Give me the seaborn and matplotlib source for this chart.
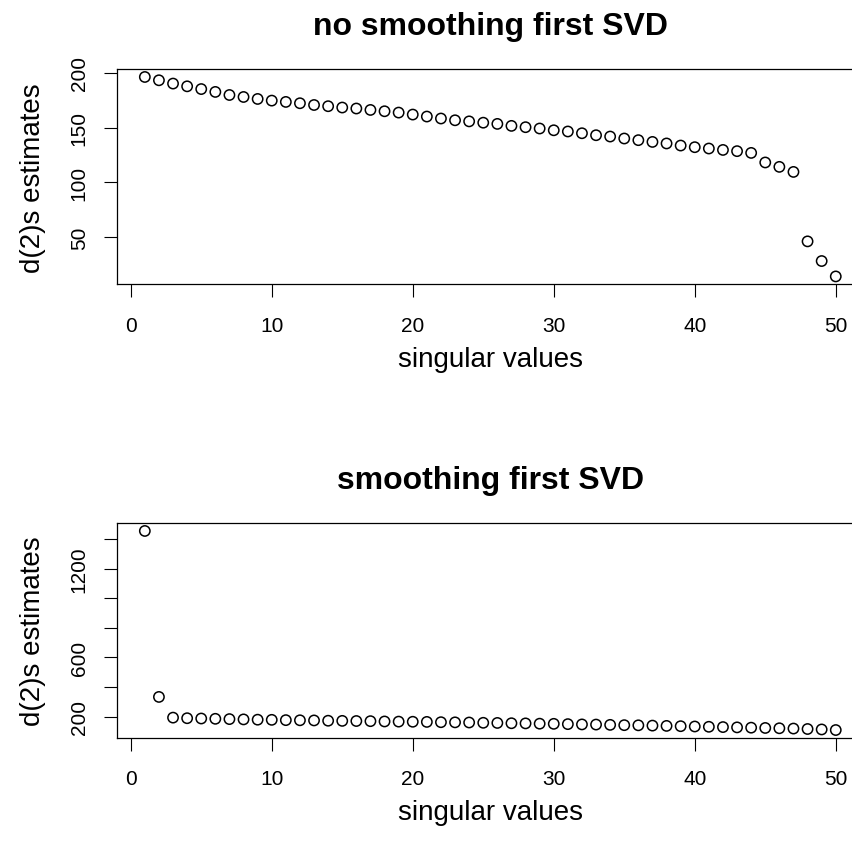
import numpy as np
import pandas as pd
import matplotlib
matplotlib.use("Agg")
import matplotlib.pyplot as plt
import seaborn as sns

# ---- data ----
idx = list(range(1, 51))
no_smooth = [196, 193, 190, 187.5, 185, 182.4, 179.6, 177.8, 176, 174.5,
             173.3, 172.1, 170.5, 169.4, 168.2, 167.3, 166, 164.8, 163.6, 161.8,
             160, 158.2, 156.6, 155.6, 154.4, 153.3, 151.5, 150.3, 149.1, 147.5,
             146.4, 144.8, 143, 141.8, 140, 138.5, 136.9, 135.5, 133.6, 132.1,
             130.9, 129.6, 128.5, 126.9, 118.2, 114.2, 109.6, 46.4, 28.5, 14.5]
smooth = [1456, 333, 193, 189, 187, 185, 183, 181, 179, 178,
          176, 175, 174, 172, 171, 170, 169, 167, 166, 165,
          164, 162, 161, 160, 158, 157, 155, 154, 152, 151,
          149, 147, 146, 144, 142, 141, 139, 137, 135, 133,
          131, 129, 127, 125, 123, 121, 119, 116, 113, 109]
titles = ["no smoothing first SVD", "smoothing first SVD"]
xticks = [0, 10, 20, 30, 40, 50]
yticks_top = [50, 100, 150, 200]
yticks_bot = [200, 400, 600, 800, 1000, 1200, 1400]
ylabels_bot = ["200", "", "600", "", "", "1200", ""]
xlabel = "singular values"
ylabel = "d(2)s estimates"

sns.set_style("white")
plt.rcParams["font.family"] = ["Liberation Sans", "DejaVu Sans"]
plt.rcParams["text.color"] = "black"
plt.rcParams["axes.labelcolor"] = "black"

fig = plt.figure(figsize=(8.53, 8.45), dpi=100)
W, H = 853, 845
left = 117.2 / W
width = 746.2 / W
ax1 = fig.add_axes([left, 1 - 285.4 / H, width, 215.4 / H])
ax2 = fig.add_axes([left, 1 - 739 / H, width, 215 / H])


def rlim(vals):
    lo, hi = min(vals), max(vals)
    r = hi - lo
    return lo - 0.04 * r, hi + 0.04 * r


def style(ax, data, yt, ylabs, title):
    df = pd.DataFrame({"i": idx, "v": data})
    sns.scatterplot(data=df, x="i", y="v", ax=ax, marker="o", s=55,
                    facecolors="none", edgecolor="black", linewidth=1.1,
                    legend=False)
    ax.set_xlim(*rlim(idx))
    ax.set_ylim(*rlim(data))
    ax.set_xticks(xticks)
    ax.set_xticklabels([str(t) for t in xticks])
    ax.set_yticks(yt)
    ax.set_yticklabels(ylabs)
    for sp in ax.spines.values():
        sp.set_visible(True)
        sp.set_color("black")
        sp.set_linewidth(0.9)
    ax.tick_params(axis="both", which="both", direction="out", length=9.4,
                   width=0.8, color="black", labelsize=15, labelcolor="black",
                   bottom=True, left=True)
    ax.tick_params(axis="x", pad=13)
    ax.tick_params(axis="y", pad=11)
    for lab in ax.get_yticklabels():
        lab.set_rotation(90)
        lab.set_va("center")
        lab.set_ha("right")
    ax.set_xlabel(xlabel, fontsize=20, labelpad=8, color="black")
    ax.set_ylabel(ylabel, fontsize=20, labelpad=17.5, color="black")
    ax.set_title(title, fontsize=23, fontweight="bold", pad=25, color="black")
    ax.grid(False)


style(ax1, no_smooth, yticks_top, [str(t) for t in yticks_top], titles[0])
style(ax2, smooth, yticks_bot, ylabels_bot, titles[1])

fig.savefig("out.png", dpi=100, facecolor="white")
